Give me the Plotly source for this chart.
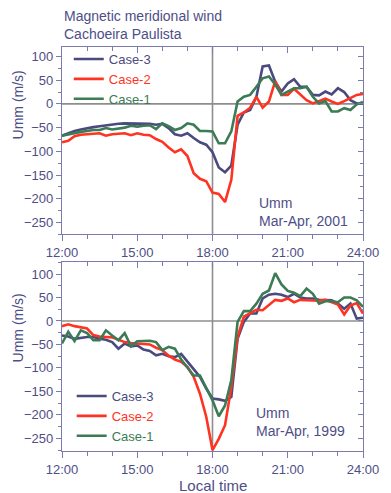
import plotly.graph_objects as go

# ---------------- data ----------------
hours = [12 + 0.25 * i for i in range(49)]

top_case3 = [-67, -62, -57, -54, -51, -49, -47, -45, -43, -42, -41, -41, -41, -42, -42, -44, -42,
             -51, -64, -67, -62, -72, -81, -86, -102, -134, -144, -130, -44, -18, -13, 15, 79, 81,
             47, 26, 43, 52, 36, 36, 19, 18, 26, 20, 33, 25, 8, 1, 1]
top_case2 = [-81, -78, -68, -65, -64, -63, -62, -67, -64, -63, -62, -66, -62, -65, -66, -74, -80,
             -92, -102, -96, -110, -146, -158, -163, -187, -190, -207, -160, -25, -18, -8, 15, -8, 5,
             48, 19, 19, 32, 19, 8, 1, 6, 11, 5, 0, 6, 12, 19, 21]
top_case1 = [-67, -64, -62, -59, -57, -55, -55, -51, -54, -52, -50, -46, -48, -46, -45, -53, -41,
             -47, -55, -51, -41, -44, -57, -57, -58, -83, -83, -58, 5, 15, 19, 36, 54, 58,
             41, 19, 26, 33, 33, 36, 15, 1, 6, -16, -16, -9, -13, -1, 4]

bot_case3 = [-31, -33, -38, -36, -34, -34, -38, -40, -45, -59, -48, -54, -52, -61, -64, -73, -70,
             -75, -77, -70, -87, -102, -119, -144, -165, -167, -170, -162, -38, -2, 16, 16, 48, 56,
             58, 56, 51, 58, 50, 48, 48, 45, 45, 44, 37, 26, 37, 5, 7]
bot_case2 = [-11, -7, -11, -14, -16, -30, -33, -34, -35, -40, -45, -47, -48, -49, -50, -57, -62,
             -74, -82, -87, -98, -119, -155, -204, -275, -251, -222, -141, -34, 9, 16, 24, 23, 35,
             45, 43, 48, 40, 45, 44, 44, 43, 45, 40, 35, 14, 33, 38, 16]
bot_case1 = [-48, -23, -43, -20, -26, -41, -41, -20, -31, -41, -26, -54, -43, -42, -42, -45, -62,
             -55, -59, -82, -98, -116, -116, -141, -169, -203, -180, -126, -2, 21, 21, 37, 58, 65,
             102, 78, 64, 60, 53, 69, 58, 37, 42, 42, 40, 50, 50, 44, 30]

x_tickvals = [12, 15, 18, 21, 24]
x_ticktext = ["12:00", "15:00", "18:00", "21:00", "24:00"]
y_tickvals = [100, 50, 0, -50, -100, -150, -200, -250]
series_names = ["Case-3", "Case-2", "Case-1"]

# ---------------- style ----------------
PAGE_W, PAGE_H = 391, 493
OFF = 8                      # default page body margin
W, H = PAGE_W - OFF, PAGE_H - OFF
ML, MR, MT, MB = 62 - OFF, 18, 47 - OFF, 42
PW, PH = W - ML - MR, H - MT - MB
FONT = "Liberation Sans, Arial, sans-serif"
TXT = "#4e4e86"
AX = "#7c7cac"
REF = "#8e8e8e"
colors = ["#4a4a7e", "#ff3322", "#3b7b55"]


def px_x(p):
    # page pixel -> paper x
    return (p - OFF - ML) / PW


def px_y(p):
    # page pixel -> paper y
    return (OFF + H - MB - p) / PH


top_dom = [px_y(234.3), 1.0]
bot_dom = [0.0, px_y(262.3)]

fig = go.Figure()

panels = [
    ("x", "y", "legend", [top_case3, top_case2, top_case1]),
    ("x2", "y2", "legend2", [bot_case3, bot_case2, bot_case1]),
]
for xa, ya, lg, sets in panels:
    for name, col, vals in zip(series_names, colors, sets):
        fig.add_trace(go.Scatter(
            x=hours, y=vals, mode="lines", xaxis=xa, yaxis=ya,
            name=f"<span style='color:{col}'>{name}</span>",
            line=dict(color=col, width=2.6), legend=lg,
        ))

# dummy traces to carry the mirrored (inward-tick) axes
fig.add_trace(go.Scatter(x=[], y=[], xaxis="x3", yaxis="y3", showlegend=False))
fig.add_trace(go.Scatter(x=[], y=[], xaxis="x4", yaxis="y4", showlegend=False))

xcommon = dict(range=[12, 24], tickmode="array", tickvals=x_tickvals, ticktext=x_ticktext,
               showgrid=False, zeroline=False, showline=True, linecolor=AX, linewidth=1.2,
               ticks="outside", ticklen=6, tickcolor=AX, tickwidth=1.2,
               minor=dict(tickmode="linear", tick0=12, dtick=1, ticks="outside", ticklen=4,
                          tickcolor=AX, tickwidth=1.2, showgrid=False),
               tickfont=dict(family=FONT, size=13, color=TXT))
ycommon = dict(tickmode="array", tickvals=y_tickvals, showgrid=False, zeroline=False,
               showline=True, linecolor=AX, linewidth=1.2,
               ticks="outside", ticklen=5, tickcolor=AX, tickwidth=1.2,
               minor=dict(tickmode="linear", tick0=0, dtick=25, ticks="outside", ticklen=3,
                          tickcolor=AX, tickwidth=1.2, showgrid=False),
               tickfont=dict(family=FONT, size=13, color=TXT))
xmirror = dict(range=[12, 24], showgrid=False, zeroline=False, showline=True, linecolor=AX,
               linewidth=1.2, side="top", showticklabels=False, tickmode="linear", tick0=12,
               dtick=3, ticks="inside", ticklen=6, tickcolor=AX, tickwidth=1.2,
               minor=dict(tickmode="linear", tick0=12, dtick=1, ticks="inside", ticklen=4,
                          tickcolor=AX, tickwidth=1.2, showgrid=False))
ymirror = dict(showgrid=False, zeroline=False, showline=True, linecolor=AX, linewidth=1.2,
               side="right", showticklabels=False, tickmode="linear", tick0=0, dtick=50,
               ticks="inside", ticklen=5, tickcolor=AX, tickwidth=1.2,
               minor=dict(tickmode="linear", tick0=0, dtick=25, ticks="inside", ticklen=3,
                          tickcolor=AX, tickwidth=1.2, showgrid=False))

top_range = [-275, 120]
bot_range = [-277, 125]

fig.update_layout(
    width=W, height=H,
    margin=dict(l=ML, r=MR, t=MT, b=MB),
    paper_bgcolor="white", plot_bgcolor="white",
    font=dict(family=FONT, color=TXT),
    xaxis=dict(**xcommon, domain=[0, 1], anchor="y"),
    yaxis=dict(**ycommon, range=top_range, domain=top_dom, anchor="x"),
    xaxis2=dict(**xcommon, domain=[0, 1], anchor="y2"),
    yaxis2=dict(**ycommon, range=bot_range, domain=bot_dom, anchor="x2"),
    xaxis3=dict(**xmirror, overlaying="x", anchor="y3"),
    yaxis3=dict(**ymirror, range=top_range, overlaying="y", anchor="x3"),
    xaxis4=dict(**xmirror, overlaying="x2", anchor="y4"),
    yaxis4=dict(**ymirror, range=bot_range, overlaying="y2", anchor="x4"),
    legend=dict(x=px_x(69), y=px_y(44), xanchor="left", yanchor="top",
                bgcolor="rgba(0,0,0,0)", font=dict(family=FONT, size=13),
                tracegroupgap=0, itemwidth=30),
    legend2=dict(x=px_x(72), y=px_y(381), xanchor="left", yanchor="top",
                 bgcolor="rgba(0,0,0,0)", font=dict(family=FONT, size=13),
                 tracegroupgap=0, itemwidth=30),
    showlegend=True,
)

# reference lines at 18:00 and 0
for xr, yr in (("x", "y"), ("x2", "y2")):
    fig.add_shape(type="line", xref=xr, yref=f"{yr} domain", x0=18, x1=18, y0=0, y1=1,
                  line=dict(color=REF, width=1.6), layer="below")
    fig.add_shape(type="line", xref=f"{xr} domain", yref=yr, x0=0, x1=1, y0=0, y1=0,
                  line=dict(color=REF, width=1.6), layer="below")

ann = []
ann.append(dict(text="Magnetic meridional wind<br>Cachoeira Paulista", x=px_x(62), y=px_y(6),
                xref="paper", yref="paper", xanchor="left", yanchor="top", align="left",
                showarrow=False, font=dict(family=FONT, size=14, color=TXT)))
ann.append(dict(text="Umm<br>Mar-Apr, 2001", x=px_x(263), y=px_y(193), xref="paper",
                yref="paper", xanchor="left", yanchor="top", align="left", showarrow=False,
                font=dict(family=FONT, size=14, color=TXT)))
ann.append(dict(text="Umm<br>Mar-Apr, 1999", x=px_x(260), y=px_y(403), xref="paper",
                yref="paper", xanchor="left", yanchor="top", align="left", showarrow=False,
                font=dict(family=FONT, size=14, color=TXT)))
ann.append(dict(text="Umm (m/s)", x=px_x(17), y=px_y(105), xref="paper", yref="paper",
                xanchor="center", yanchor="middle", textangle=-90, showarrow=False,
                font=dict(family=FONT, size=14, color=TXT)))
ann.append(dict(text="Umm (m/s)", x=px_x(17), y=px_y(328), xref="paper", yref="paper",
                xanchor="center", yanchor="middle", textangle=-90, showarrow=False,
                font=dict(family=FONT, size=14, color=TXT)))
ann.append(dict(text="Local time", x=px_x(218), y=px_y(485), xref="paper", yref="paper",
                xanchor="center", yanchor="middle", showarrow=False,
                font=dict(family=FONT, size=15, color=TXT)))
fig.update_layout(annotations=ann)

fig.write_html("out.html")
